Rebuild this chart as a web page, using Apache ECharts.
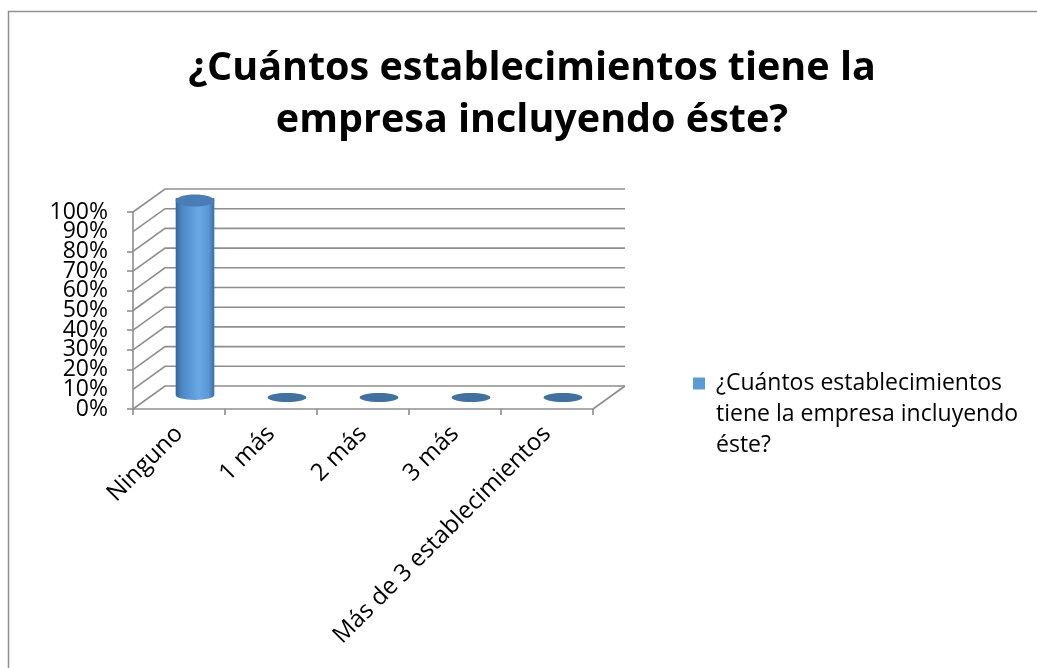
<!DOCTYPE html>
<html>
<head>
<meta charset="utf-8">
<script src="https://cdn.jsdelivr.net/npm/echarts@6/dist/echarts.min.js"></script>
<style>
html,body{margin:0;padding:0;background:#fff;}
#chart{width:1037px;height:668px;}
</style>
</head>
<body>
<div id="chart"></div>
<script>
const titleText = '¿Cuántos establecimientos tiene la\nempresa incluyendo éste?';
const seriesName = '¿Cuántos establecimientos tiene la empresa incluyendo éste?';
const legendLines = ['¿Cuántos establecimientos', 'tiene la empresa incluyendo', 'éste?'];
const categories = ['Ninguno', '1 más', '2 más', '3 más', 'Más de 3 establecimientos'];
const values = [1.0, 0, 0, 0, 0];
const yTicks = [0, 0.1, 0.2, 0.3, 0.4, 0.5, 0.6, 0.7, 0.8, 0.9, 1.0];
// labels that the overlay axis shows (those next to the min and max)
const overlayTicks = [0.1, 0.9];

const FONT = '"Open Sans", "DejaVu Sans", sans-serif';
const DX = 32, DY = -23;
const GRID_COLOR = '#8e8e8e';

const chart = echarts.init(document.getElementById('chart'), null, {renderer: 'canvas'});

function pct(v) { return Math.round(v * 100) + '%'; }

function wallsRender(params, api) {
  const cs = params.coordSys;
  const v = api.value(0);
  const y = api.coord([0, v])[1];
  const x0 = cs.x, x1 = cs.x + cs.width;
  const children = [{
    type: 'polyline',
    shape: {points: [[x0, y], [x0 + DX, y + DY], [x1 + DX, y + DY]]},
    style: {stroke: GRID_COLOR, lineWidth: 1.6, fill: null}
  }];
  if (v === 0) {
    children.push({
      type: 'line',
      shape: {x1: x1, y1: y, x2: x1 + DX, y2: y + DY},
      style: {stroke: GRID_COLOR, lineWidth: 1.6}
    });
  }
  return {type: 'group', children: children};
}

function cylRender(params, api) {
  const idx = api.value(0);
  const val = api.value(1);
  const base = api.coord([idx, 0]);
  const top = api.coord([idx, val]);
  const bw = api.size([1, 0])[0];
  const w = bw * 0.42;
  const rx = w / 2, ry = 5;
  const cx = base[0] + DX / 2;
  const yb = base[1] + DY / 2;
  const yt = top[1] + DY / 2;
  const children = [];
  if (yb - yt > 0.5) {
    children.push({
      type: 'path',
      shape: {
        pathData: 'M' + (cx - rx) + ' ' + yt + ' L' + (cx - rx) + ' ' + yb +
          ' A' + rx + ' ' + ry + ' 0 0 0 ' + (cx + rx) + ' ' + yb +
          ' L' + (cx + rx) + ' ' + yt + ' Z',
        x: cx - rx, y: yt - ry, width: 2 * rx, height: yb - yt + 2 * ry
      },
      style: {
        fill: new echarts.graphic.LinearGradient(0, 0, 1, 0, [
          {offset: 0, color: '#34659c'},
          {offset: 0.15, color: '#4a85c4'},
          {offset: 0.6, color: '#6aa9e5'},
          {offset: 0.85, color: '#5a97d4'},
          {offset: 1, color: '#3b6ea6'}
        ])
      }
    });
    children.push({
      type: 'ellipse',
      shape: {cx: cx, cy: yt, rx: rx, ry: ry + 1},
      style: {fill: '#4a7db5'}
    });
  } else {
    children.push({
      type: 'ellipse',
      shape: {cx: cx, cy: yt, rx: rx, ry: ry - 0.5},
      style: {fill: '#41729f'}
    });
  }
  return {type: 'group', children: children};
}

const yLabelBase = {margin: 25, fontFamily: FONT, fontSize: 23, color: '#000'};

const option = {
  backgroundColor: '#ffffff',
  animation: false,
  title: {
    text: titleText,
    left: 527,
    top: 38,
    textAlign: 'center',
    textStyle: {fontFamily: FONT, fontSize: 39.5, fontWeight: 'bold', color: '#000', lineHeight: 52}
  },
  legend: {
    left: 693,
    top: 306,
    padding: 0,
    orient: 'vertical',
    itemWidth: 12,
    itemHeight: 12,
    icon: 'rect',
    data: [{name: seriesName, itemStyle: {color: '#5b9bd5'}}],
    formatter: function () {
      return '\n\n' + legendLines.join('\n');
    },
    textStyle: {fontFamily: FONT, fontSize: 23, color: '#000', lineHeight: 31, padding: [0, 0, 0, 6]}
  },
  grid: {left: 133, top: 212, width: 460, height: 197, containLabel: false},
  xAxis: {
    type: 'category',
    data: categories,
    boundaryGap: true,
    axisLine: {show: true, lineStyle: {color: GRID_COLOR, width: 1.6}},
    axisTick: {show: true, length: 6, lineStyle: {color: GRID_COLOR, width: 1.6}},
    axisLabel: {rotate: 45, margin: 21, fontFamily: FONT, fontSize: 24, color: '#000', interval: 0},
    splitLine: {show: false}
  },
  yAxis: [
    {
      type: 'value',
      position: 'left',
      min: 0, max: 1, interval: 0.1,
      axisLine: {show: true, lineStyle: {color: GRID_COLOR, width: 1.6}},
      axisTick: {show: true, length: 6, lineStyle: {color: GRID_COLOR, width: 1.6}},
      axisLabel: Object.assign({}, yLabelBase, {
        showMinLabel: true, showMaxLabel: true,
        formatter: pct
      }),
      splitLine: {show: false}
    },
    {
      type: 'value',
      position: 'left',
      offset: 0,
      min: 0, max: 1, interval: 0.1,
      axisLine: {show: false},
      axisTick: {show: false},
      axisLabel: Object.assign({}, yLabelBase, {
        showMinLabel: false, showMaxLabel: false,
        formatter: function (v) {
          return overlayTicks.some(function (t) { return Math.abs(t - v) < 1e-9; }) ? pct(v) : '';
        }
      }),
      splitLine: {show: false}
    }
  ],
  graphic: [{
    type: 'rect',
    shape: {x: 8.5, y: 11.5, width: 1200, height: 900},
    style: {fill: null, stroke: '#909090', lineWidth: 1.5},
    silent: true
  }],
  series: [
    {
      type: 'custom',
      name: 'walls',
      renderItem: wallsRender,
      data: yTicks.map(function (t) { return [t]; }),
      encode: {y: 0},
      yAxisIndex: 0,
      silent: true,
      z: 1
    },
    {
      type: 'custom',
      name: seriesName,
      renderItem: cylRender,
      itemStyle: {color: '#5b9bd5'},
      data: values.map(function (v, i) { return [i, v]; }),
      encode: {x: 0, y: 1},
      yAxisIndex: 0,
      z: 3
    }
  ]
};
chart.setOption(option);
</script>
</body>
</html>
